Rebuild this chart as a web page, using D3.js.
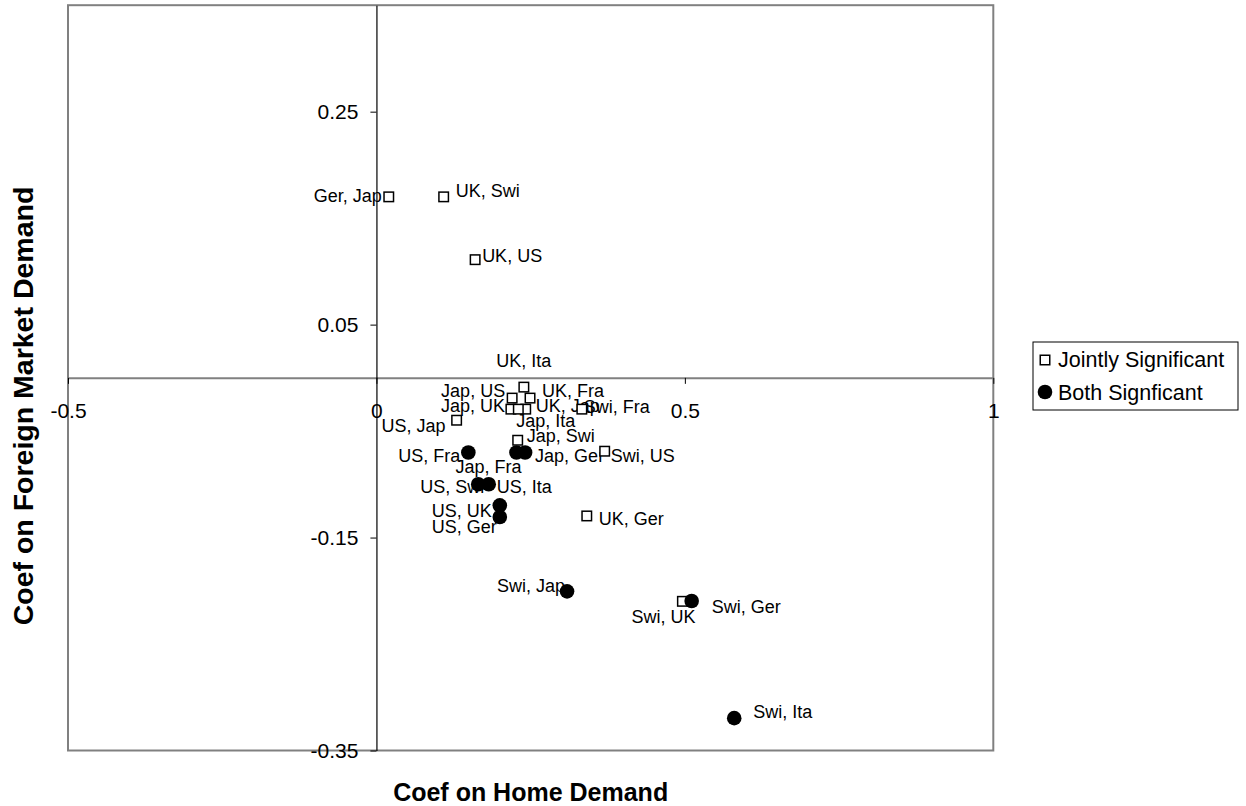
<!DOCTYPE html>
<html><head><meta charset="utf-8">
<script src="https://cdn.jsdelivr.net/npm/d3@7"></script>
<style>
html,body{margin:0;padding:0;background:#fff;}
text{font-family:"Liberation Sans",Arial,sans-serif;fill:#000;}
</style></head>
<body>
<svg id="chart" width="1246" height="806"></svg>
<script>
// ---- data ----
const jointLabels = ["Ger, Jap","UK, Swi","UK, US","UK, Ita","Jap, US","UK, Fra","Jap, UK","UK, Jap","Jap, Ita","Swi, Fra","US, Jap","Jap, Swi","Swi, US","UK, Ger","Swi, UK"];
const jointX = [0.020,0.109,0.160,0.239,0.220,0.249,0.218,0.242,0.230,0.333,0.130,0.229,0.370,0.341,0.496];
const jointY = [0.170,0.170,0.111,-0.0087,-0.019,-0.019,-0.0294,-0.0294,-0.0294,-0.0294,-0.0398,-0.0586,-0.0689,-0.1297,-0.2099];

const bothLabels = ["US, Fra","Jap, Ger","Jap, Fra","US, Swi","US, Ita","US, UK","US, Ger","Swi, Jap","Swi, Ger","Swi, Ita"];
const bothX = [0.149,0.241,0.227,0.165,0.182,0.200,0.200,0.309,0.511,0.580];
const bothY = [-0.0701,-0.0701,-0.0701,-0.0999,-0.0999,-0.1197,-0.1307,-0.2005,-0.2096,-0.3196];

const xTicks = [-0.5, 0, 0.5, 1];
const xTickLabels = ["-0.5","0","0.5","1"];
const yTicks = [0.25, 0.05, -0.15, -0.35];
const yTickLabels = ["0.25","0.05","-0.15","-0.35"];
const seriesNames = ["Jointly Significant","Both Signficant"];

// label placement (anchor, dx, dy in px) -- layout only
const jointLabelPlace = [["end",-7,5],["start",12,0],["start",7,2],["middle",0,-20],["end",-7,-1],["start",12,-1],["end",-6,3],["start",10,3],["start",-2,18],["start",2,4],["end",-11,12],["start",9,2],["start",6,11],["start",12,9],["end",13,22]];
const bothLabelPlace = [["end",-8,10],["start",10,10],["end",5,21],["end",6,9],["start",8,9],["end",-8,12],["end",-3,16],["end",-2,1],["start",20,12],["start",19,0]];

// ---- chart ----
const svg = d3.select("#chart");
const L = 68, R = 993.3, T = 5.2, B = 750.5;
const x = d3.scaleLinear().domain([-0.5, 1]).range([L, R]);
const y = d3.scaleLinear().domain([-0.35, 0.35]).range([B, T]);

// plot border
svg.append("rect").attr("x", L).attr("y", T).attr("width", R - L).attr("height", B - T)
  .attr("fill", "none").attr("stroke", "#808080").attr("stroke-width", 2);

// x axis at y=0
const xAxis = svg.append("g").attr("transform", `translate(0,${y(0)})`)
  .call(d3.axisBottom(x).tickValues(xTicks).tickFormat((d,i)=>xTickLabels[i]).tickSize(6).tickSizeOuter(0).tickPadding(19));
xAxis.select(".domain").attr("stroke", "#808080").attr("stroke-width", 2);
xAxis.selectAll(".tick line").attr("stroke", "#000");
xAxis.selectAll("text").attr("font-size", "21px").attr("font-family", '"Liberation Sans",Arial,sans-serif').attr("fill","#000");

// y axis at x=0
const yAxis = svg.append("g").attr("transform", `translate(${x(0)},0)`)
  .call(d3.axisLeft(y).tickValues(yTicks).tickFormat((d,i)=>yTickLabels[i]).tickSize(6).tickSizeOuter(0).tickPadding(12));
yAxis.select(".domain").attr("stroke", "#000").attr("stroke-width", 1.2);
yAxis.selectAll(".tick line").attr("stroke", "#000");
yAxis.selectAll("text").attr("font-size", "21px").attr("font-family", '"Liberation Sans",Arial,sans-serif').attr("fill","#000");

// data
const joint = jointLabels.map((l,i)=>({label:l, x:jointX[i], y:jointY[i], p:jointLabelPlace[i]}));
const both = bothLabels.map((l,i)=>({label:l, x:bothX[i], y:bothY[i], p:bothLabelPlace[i]}));

// labels
const lab = svg.append("g").attr("font-size", "18px");
lab.selectAll("text.j").data(joint).join("text").attr("class","j")
  .attr("x", d=>x(d.x)+d.p[1]).attr("y", d=>y(d.y)+d.p[2]).attr("text-anchor", d=>d.p[0]).text(d=>d.label);
lab.selectAll("text.b").data(both).join("text").attr("class","b")
  .attr("x", d=>x(d.x)+d.p[1]).attr("y", d=>y(d.y)+d.p[2]).attr("text-anchor", d=>d.p[0]).text(d=>d.label);

// markers
const sq = 9.5;
svg.append("g").selectAll("rect").data(joint).join("rect")
  .attr("x", d=>x(d.x)-sq/2).attr("y", d=>y(d.y)-sq/2).attr("width", sq).attr("height", sq)
  .attr("fill", "#fff").attr("stroke", "#000").attr("stroke-width", 1.5);
svg.append("g").selectAll("circle").data(both).join("circle")
  .attr("cx", d=>x(d.x)).attr("cy", d=>y(d.y)).attr("r", 7.3).attr("fill", "#000");

// axis titles
svg.append("text").attr("x", (L+R)/2).attr("y", 801).attr("text-anchor","middle")
  .attr("font-size","25px").attr("font-weight","bold").text("Coef on Home Demand");
svg.append("text").attr("transform","translate(33,406) rotate(-90)").attr("text-anchor","middle")
  .attr("font-size","28.5px").attr("font-weight","bold").text("Coef on Foreign Market Demand");

// legend
const lg = svg.append("g");
lg.append("rect").attr("x",1033).attr("y",342).attr("width",205).attr("height",68)
  .attr("fill","#fff").attr("stroke","#000").attr("stroke-width",1);
lg.append("rect").attr("x",1045-sq/2).attr("y",360-sq/2).attr("width",sq).attr("height",sq)
  .attr("fill","#fff").attr("stroke","#000").attr("stroke-width",1.5);
lg.append("circle").attr("cx",1045).attr("cy",392).attr("r",7.3).attr("fill","#000");
lg.selectAll("text").data(seriesNames).join("text")
  .attr("x",1058).attr("y",(d,i)=>367+i*33).attr("font-size","21.5px").text(d=>d);
</script>
</body></html>
